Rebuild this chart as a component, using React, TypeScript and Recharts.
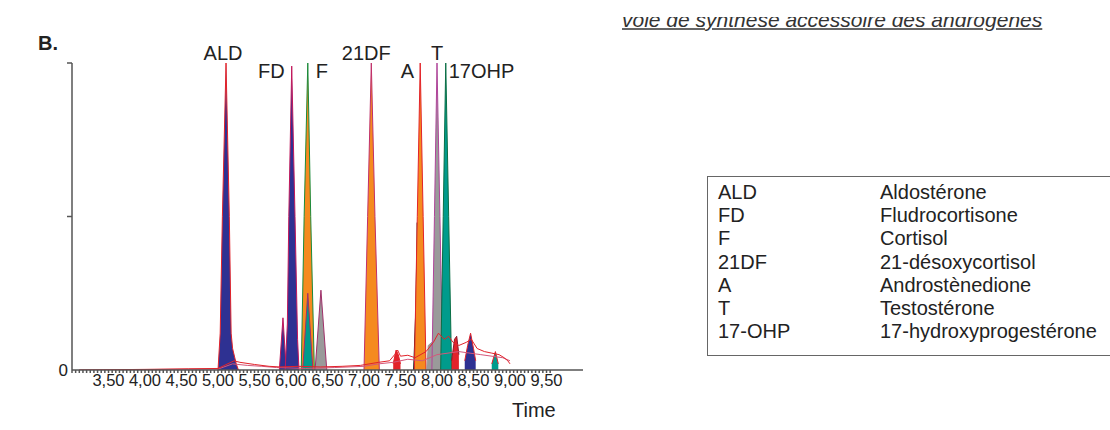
import React from "react"
import {
    ComposedChart,
    Area,
    Line,
    XAxis,
    YAxis,
    ReferenceDot,
} from "recharts"

// time axis (minutes) and its printed labels
const majorTickTimes = [3.5, 4, 4.5, 5, 5.5, 6, 6.5, 7, 7.5, 8, 8.5, 9, 9.5]
const majorTickLabels = ["3,50", "4,00", "4,50", "5,00", "5,50", "6,00", "6,50", "7,00", "7,50", "8,00", "8,50", "9,00", "9,50"]

// peak names and retention times
const peakNames = ["ALD", "FD", "F", "21DF", "A", "T", "17OHP"]
const peakTimes = [5.11, 6.01, 6.23, 7.1, 7.77, 8.0, 8.12]

// legend table
const legendCodes = ["ALD", "FD", "F", "21DF", "A", "T", "17-OHP"]
const legendNames = ["Aldostérone", "Fludrocortisone", "Cortisol", "21-désoxycortisol", "Androstènedione", "Testostérone", "17-hydroxyprogestérone"]

// chromatogram traces, [time, relative intensity]
const aldPeak = [[5.0, 0], [5.03, 0.12], [5.06, 0.5], [5.11, 1.0], [5.155, 0.5], [5.18, 0.12], [5.2, 0.07], [5.25, 0.02], [5.28, 0]]
const fdSmallPeak = [[5.84, 0], [5.89, 0.17], [5.93, 0.02], [5.95, 0]]
const fdPeak = [[5.92, 0], [5.95, 0.15], [5.97, 0.5], [6.01, 0.99], [6.055, 0.5], [6.09, 0.1], [6.11, 0]]
const fPeak = [[6.14, 0], [6.18, 0.5], [6.23, 1.0], [6.27, 0.5], [6.32, 0]]
const fTealPeak = [[6.16, 0], [6.23, 0.25], [6.3, 0]]
const grayPeak = [[6.33, 0], [6.41, 0.26], [6.49, 0]]
const df21Peak = [[7.0, 0], [7.05, 0.5], [7.1, 1.0], [7.15, 0.5], [7.21, 0]]
const aSpike = [[7.68, 0], [7.71, 0.2], [7.73, 0.48], [7.75, 0.15], [7.78, 0]]
const aPeak = [[7.69, 0], [7.73, 0.5], [7.77, 1.0], [7.81, 0.5], [7.85, 0]]
const grayBlock = [[7.86, 0], [7.88, 0.08], [7.93, 0.09], [7.95, 0]]
const tPeak = [[7.93, 0], [7.965, 0.5], [8.0, 1.0], [8.04, 0.5], [8.08, 0]]
const ohpPeak = [[8.05, 0], [8.085, 0.5], [8.12, 1.0], [8.16, 0.5], [8.2, 0]]
const redBump745 = [[7.4, 0.02], [7.44, 0.065], [7.47, 0.05], [7.5, 0.02]]
const redBump825 = [[8.2, 0.03], [8.24, 0.1], [8.27, 0.11], [8.3, 0.05]]
const navyBump = [[8.38, 0.03], [8.42, 0.08], [8.46, 0.12], [8.5, 0.07], [8.53, 0.03]]
const tealBump = [[8.75, 0.02], [8.8, 0.06], [8.84, 0.02]]
const redTrace = [[3.1, 0], [4.0, 0.002], [4.6, 0.004], [5.0, 0.005], [5.22, 0.03], [5.3, 0.025], [5.5, 0.018], [5.7, 0.012], [5.85, 0.01], [6.1, 0.012], [6.4, 0.01], [6.7, 0.012], [6.95, 0.015], [7.2, 0.025], [7.35, 0.03], [7.42, 0.05], [7.46, 0.065], [7.5, 0.045], [7.6, 0.048], [7.7, 0.04], [7.85, 0.06], [7.95, 0.09], [8.02, 0.12], [8.1, 0.1], [8.16, 0.11], [8.22, 0.09], [8.3, 0.08], [8.4, 0.09], [8.47, 0.1], [8.55, 0.07], [8.65, 0.06], [8.75, 0.055], [8.85, 0.05], [8.92, 0.04], [8.97, 0.03], [9.0, 0.02]]
const pinkTrace = [[3.1, 0], [5.0, 0.003], [5.2, 0.02], [5.4, 0.015], [5.6, 0.012], [5.8, 0.008], [6.2, 0.005], [6.6, 0.008], [7.0, 0.012], [7.2, 0.02], [7.4, 0.025], [7.6, 0.035], [7.8, 0.03], [8.0, 0.05], [8.3, 0.06], [8.6, 0.05], [8.9, 0.04], [9.0, 0.03]]

const toRows = (pts: number[][]) => pts.map(([t, v]) => ({ t, v }))

const navy = "#2e3192"
const orange = "#f58a1f"
const teal = "#009b8c"
const gray = "#9a9a9a"
const red = "#e2232a"

const filledSeries = [
    { key: "ald", pts: aldPeak, fill: navy, stroke: red },
    { key: "fdSmall", pts: fdSmallPeak, fill: navy, stroke: "#c2185b" },
    { key: "fd", pts: fdPeak, fill: navy, stroke: "#c2185b" },
    { key: "f", pts: fPeak, fill: orange, stroke: "#1b8a3a" },
    { key: "fTeal", pts: fTealPeak, fill: teal, stroke: "#a0306a" },
    { key: "gray", pts: grayPeak, fill: gray, stroke: "#a0306a" },
    { key: "df21", pts: df21Peak, fill: orange, stroke: "#c0306a" },
    { key: "aSpike", pts: aSpike, fill: "#3f7a5a", stroke: "#111" },
    { key: "a", pts: aPeak, fill: orange, stroke: red },
    { key: "grayBlock", pts: grayBlock, fill: gray, stroke: gray },
    { key: "t", pts: tPeak, fill: gray, stroke: "#b0449a" },
    { key: "ohp", pts: ohpPeak, fill: teal, stroke: "#0a6e45" },
    { key: "r745", pts: redBump745, fill: red, stroke: red },
    { key: "r825", pts: redBump825, fill: red, stroke: "#8a1a2a" },
    { key: "navyBump", pts: navyBump, fill: navy, stroke: red },
    { key: "tealBump", pts: tealBump, fill: teal, stroke: red },
]

// where each peak name sits relative to its apex
const labelPlacement: Record<string, { dx: number; dy: number; anchor: "start" | "middle" | "end" }> = {
    ALD: { dx: -3, dy: -3, anchor: "middle" },
    FD: { dx: -7, dy: 15, anchor: "end" },
    F: { dx: 8, dy: 15, anchor: "start" },
    "21DF": { dx: -5, dy: -3, anchor: "middle" },
    A: { dx: -6, dy: 15, anchor: "end" },
    T: { dx: 0, dy: -3, anchor: "middle" },
    "17OHP": { dx: 3, dy: 15, anchor: "start" },
}

const minorTicks = Array.from({ length: 132 }, (_, i) => Math.round((3 + i * 0.05) * 100) / 100)

const axisColor = "#555"

function XTickLabel(v: number) {
    const i = majorTickTimes.findIndex(m => Math.abs(m - v) < 1e-6)
    return i >= 0 ? majorTickLabels[i] : ""
}

function YTick({ x, y, payload }: any) {
    if (payload.value === 0) {
        return <text x={x + 1} y={y} dy={6} textAnchor="end" fontSize={17} fill="#222">0</text>
    }
    return <line x1={x} x2={x + 5} y1={y} y2={y} stroke={axisColor} strokeWidth={1.5} />
}

export default function App() {
    return (
        <div
            style={{
                position: "absolute",
                left: 0,
                top: 0,
                width: 1110,
                height: 430,
                overflow: "hidden",
                background: "#fff",
                color: "#222",
                fontFamily: '"Liberation Sans", Arial, sans-serif',
            }}
        >
            {/* heading, cut at the top as in the source page */}
            <div style={{ position: "absolute", left: 622, top: 17, width: 460, height: 16, overflow: "hidden" }}>
                <div
                    style={{
                        position: "relative",
                        top: -8,
                        fontSize: 21,
                        lineHeight: 1,
                        fontStyle: "italic",
                        whiteSpace: "nowrap",
                        textDecoration: "underline",
                        textDecorationThickness: 2,
                        textDecorationColor: "#666",
                        color: "#333",
                    }}
                >
                    voie de synthèse accessoire des androgènes
                </div>
            </div>

            <div style={{ position: "absolute", left: 38, top: 32, fontSize: 20, fontWeight: "bold" }}>B.</div>

            <div style={{ position: "absolute", left: 0, top: 0 }}>
                <ComposedChart width={600} height={430} margin={{ top: 63, right: 17, bottom: 30, left: 0 }}>
                    <XAxis
                        dataKey="t"
                        type="number"
                        domain={[3, 10]}
                        allowDataOverflow
                        ticks={minorTicks}
                        interval={0}
                        tickFormatter={XTickLabel}
                        tickSize={3}
                        tickMargin={1}
                        height={30}
                        stroke={axisColor}
                        strokeWidth={1.5}
                        tick={{ fill: "#222", fontSize: 16.5 }}
                    />
                    <YAxis
                        type="number"
                        domain={[0, 1]}
                        allowDataOverflow
                        ticks={[0, 0.5, 1]}
                        width={72}
                        tickSize={5}
                        tickMargin={0}
                        tickLine={false}
                        stroke={axisColor}
                        strokeWidth={1.5}
                        tick={<YTick />}
                    />
                    {filledSeries.map(s => (
                        <Area
                            key={s.key}
                            data={toRows(s.pts)}
                            dataKey="v"
                            type="linear"
                            baseValue={0}
                            fill={s.fill}
                            fillOpacity={1}
                            stroke={s.stroke}
                            strokeWidth={1}
                            dot={false}
                            activeDot={false}
                            isAnimationActive={false}
                        />
                    ))}
                    <Line data={toRows(pinkTrace)} dataKey="v" type="linear" stroke="#d4577a" strokeWidth={1} dot={false} isAnimationActive={false} />
                    <Line data={toRows(redTrace)} dataKey="v" type="linear" stroke={red} strokeWidth={1} dot={false} isAnimationActive={false} />
                    {peakNames.map((name, i) => {
                        const p = labelPlacement[name]
                        return (
                            <ReferenceDot
                                key={name}
                                x={peakTimes[i]}
                                y={1}
                                r={0}
                                ifOverflow="visible"
                                shape={(props: any) => (
                                    <text
                                        x={props.cx + p.dx}
                                        y={props.cy + p.dy}
                                        textAnchor={p.anchor}
                                        fontSize={20}
                                        fill="#222"
                                    >
                                        {name}
                                    </text>
                                )}
                            />
                        )
                    })}
                </ComposedChart>
            </div>

            <div style={{ position: "absolute", left: 512, top: 399, fontSize: 20 }}>Time</div>

            {/* abbreviation table */}
            <div
                style={{
                    position: "absolute",
                    left: 707,
                    top: 176,
                    width: 420,
                    height: 174,
                    border: "1.5px solid #666",
                    padding: "4px 0 0 10px",
                    fontSize: 20,
                    lineHeight: "23.2px",
                }}
            >
                {legendCodes.map((code, i) => (
                    <div key={code} style={{ display: "flex" }}>
                        <span style={{ width: 162 }}>{code}</span>
                        <span>{legendNames[i]}</span>
                    </div>
                ))}
            </div>
        </div>
    )
}
